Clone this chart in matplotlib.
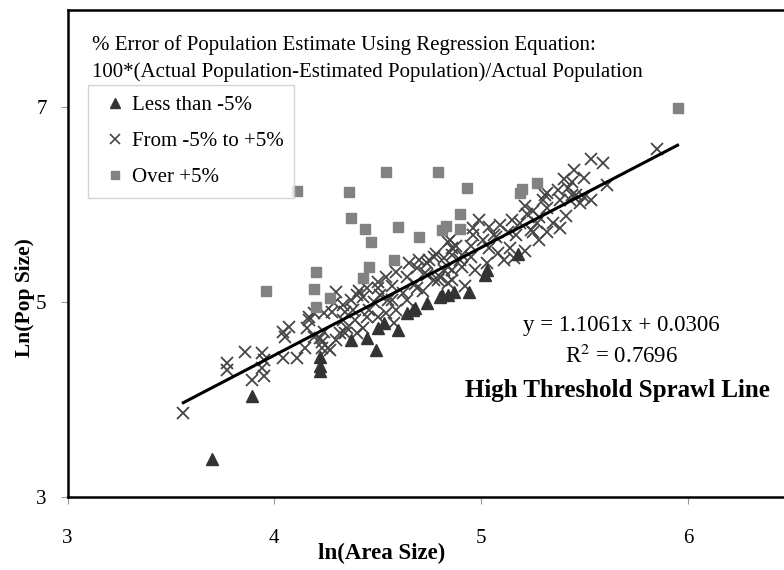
import matplotlib
matplotlib.use("Agg")
import matplotlib.pyplot as plt
from matplotlib.lines import Line2D

plt.rcParams["font.family"] = ["Liberation Serif", "DejaVu Serif"]
plt.rcParams["mathtext.fontset"] = "stix"

# ln(area), ln(pop) pairs
less_x = [3.70, 3.89, 4.22, 4.22, 4.22, 4.37, 4.45, 4.49, 4.50, 4.53, 4.60, 4.64,
          4.67, 4.68, 4.74, 4.80, 4.81, 4.84, 4.87, 4.94, 5.02, 5.03, 5.18]
less_y = [3.39, 4.04, 4.44, 4.35, 4.29, 4.61, 4.63, 4.51, 4.74, 4.79, 4.71, 4.89,
          4.92, 4.94, 4.99, 5.05, 5.07, 5.07, 5.10, 5.10, 5.28, 5.33, 5.49]

mid_x = [3.56, 3.77, 3.77, 3.86, 3.89, 3.94, 3.95, 3.94, 3.95, 4.04, 4.04, 4.05,
         4.07, 4.11, 4.15, 4.16, 4.17, 4.22, 4.23, 4.26, 4.19, 4.30, 4.33, 4.33,
         4.34, 4.24, 4.28, 4.17, 4.19, 4.24, 4.27, 4.23, 4.29, 4.40, 4.41, 4.43,
         4.38, 4.45, 4.48, 4.50, 4.54, 4.59, 4.65, 4.64, 4.69, 4.70, 4.75, 4.78,
         4.82, 4.86, 4.69, 4.62, 4.57, 4.54, 4.50, 4.59, 4.64, 4.72, 4.77, 4.84,
         4.82, 4.86, 4.43, 4.35, 4.32, 4.30, 4.40, 4.45, 4.50, 4.84, 4.88, 4.96,
         4.99, 5.04, 5.07, 5.32, 5.30, 5.22, 5.09, 4.96, 4.85, 4.86, 4.77, 4.74,
         4.73, 4.80, 4.86, 4.91, 5.03, 5.08, 5.11, 5.14, 5.17, 5.24, 5.27, 5.28,
         5.32, 5.19, 5.13, 5.04, 4.95, 4.90, 4.84, 4.79, 5.85, 5.53, 5.59, 5.61,
         5.45, 5.50, 5.44, 5.42, 5.44, 5.50, 5.53, 5.48, 5.41, 5.38, 5.31, 5.25,
         5.32, 5.25, 5.35, 5.46, 5.43, 5.40, 5.37, 5.21, 5.16, 5.28, 5.38, 4.97,
         4.92, 4.58, 4.39, 4.46, 4.55, 4.68, 4.74, 4.91, 4.95, 5.01, 5.06, 5.15,
         5.21, 4.51, 4.57, 4.34, 4.37]
mid_y = [3.86, 4.38, 4.30, 4.49, 4.20, 4.48, 4.41, 4.32, 4.24, 4.43, 4.69, 4.64,
         4.75, 4.43, 4.53, 4.73, 4.82, 4.63, 4.53, 4.53, 4.89, 5.10, 4.97, 4.82,
         4.68, 4.89, 4.90, 4.85, 4.64, 4.69, 4.51, 4.59, 4.99, 5.07, 5.12, 5.05,
         4.92, 4.85, 5.00, 5.15, 5.26, 5.31, 5.40, 5.26, 5.35, 5.43, 5.43, 5.50,
         5.45, 5.48, 5.15, 5.09, 5.02, 4.89, 4.85, 4.92, 5.02, 5.12, 5.23, 5.20,
         5.33, 5.33, 4.74, 4.74, 4.68, 4.61, 4.68, 5.15, 5.21, 5.62, 5.58, 5.76,
         5.84, 5.77, 5.67, 6.12, 6.05, 5.91, 5.79, 5.69, 5.64, 5.56, 5.46, 5.40,
         5.30, 5.26, 5.23, 5.36, 5.40, 5.51, 5.43, 5.56, 5.69, 5.74, 5.81, 5.87,
         5.97, 5.81, 5.72, 5.56, 5.46, 5.43, 5.36, 5.23, 6.57, 6.47, 6.43, 6.20,
         6.36, 6.28, 6.23, 6.17, 6.10, 6.08, 6.05, 6.02, 5.89, 6.05, 6.10, 5.94,
         5.72, 5.72, 5.81, 6.10, 6.05, 6.26, 6.15, 5.53, 5.45, 5.64, 5.76, 5.33,
         5.17, 4.79, 4.82, 4.92, 5.02, 5.19, 5.28, 5.48, 5.58, 5.64, 5.69, 5.84,
         5.99, 5.07, 5.17, 4.90, 5.02]

over_x = [5.95, 4.11, 4.54, 4.79, 4.36, 4.37, 4.44, 4.47, 4.60, 4.70, 4.58, 4.46,
          4.43, 4.20, 4.19, 3.96, 4.27, 4.20, 4.93, 4.90, 4.81, 4.83, 4.90, 5.27,
          5.20, 5.19]
over_y = [6.99, 6.14, 6.34, 6.34, 6.13, 5.86, 5.75, 5.62, 5.77, 5.67, 5.43, 5.36,
          5.25, 5.31, 5.14, 5.12, 5.04, 4.95, 6.17, 5.91, 5.74, 5.78, 5.75, 6.22,
          6.16, 6.12]

slope, intercept = 1.1061, 0.0306
fit_x = [3.56, 5.95]
fit_y = [slope * v + intercept for v in fit_x]

fig = plt.figure(figsize=(7.84, 5.70), dpi=100)
ax = fig.add_axes([67.5 / 784, 73 / 570, 723.8 / 784, 487 / 570])

ax.plot(mid_x, mid_y, linestyle="none", marker="x", markersize=8,
        markeredgewidth=1.3, color="#454545")
ax.plot(less_x, less_y, linestyle="none", marker="^", markersize=8,
        color="#333333")
ax.plot(over_x, over_y, linestyle="none", marker="s", markersize=7,
        color="#828282")
ax.plot(fit_x, fit_y, color="black", linewidth=2.2)

ax.set_xlim(3, 6.5)
ax.set_ylim(3, 8)
ax.set_xticks([3, 4, 5, 6])
ax.set_yticks([3, 5, 7])
ax.tick_params(axis="both", direction="out", length=5, width=0.8,
               color="#999999", labelsize=15)
ax.tick_params(axis="x", pad=18)
ax.tick_params(axis="y", pad=10)
for side in ["top", "left", "bottom"]:
    ax.spines[side].set_linewidth(1.8)
ax.spines["right"].set_visible(False)

ax.set_xlabel("ln(Area Size)", fontsize=16.5, fontweight="bold", va="center")
ax.xaxis.set_label_coords(0.4345, -0.115)
ax.set_ylabel("Ln(Pop Size)", fontsize=15.5, fontweight="bold", va="center")
ax.yaxis.set_label_coords(-0.059, 0.41)

fig.text(92 / 784, 1 - 45 / 570,
         "% Error of Population Estimate Using Regression Equation:",
         fontsize=15, va="center", ha="left")
fig.text(92 / 784, 1 - 72 / 570,
         "100*(Actual Population-Estimated Population)/Actual Population",
         fontsize=15, va="center", ha="left")

handles = [
    Line2D([], [], linestyle="none", marker="^", markersize=7, color="#333333"),
    Line2D([], [], linestyle="none", marker="x", markersize=7,
           markeredgewidth=1.2, color="#454545"),
    Line2D([], [], linestyle="none", marker="s", markersize=6, color="#828282"),
]
labels = ["Less than -5%", "From -5% to +5%", "Over +5%"]
leg = ax.legend(handles, labels, loc="upper left",
                bbox_to_anchor=(88 / 784, 1 - 85 / 570),
                bbox_transform=fig.transFigure, fontsize=15, frameon=True,
                fancybox=False, edgecolor="#c8c8c8", borderaxespad=0,
                handlelength=1.6, handletextpad=0.0, labelspacing=0.8,
                borderpad=0.5)
leg.get_frame().set_linewidth(1.0)

ax.text(5.68, 4.76, "y = 1.1061x + 0.0306", fontsize=16.5, ha="center",
        va="center")
ax.text(5.68, 4.44, "R$^2$ = 0.7696", fontsize=16.5, ha="center", va="center")
ax.text(5.66, 4.09, "High Threshold Sprawl Line", fontsize=18,
        fontweight="bold", ha="center", va="center")

fig.savefig("out.png", dpi=100)
